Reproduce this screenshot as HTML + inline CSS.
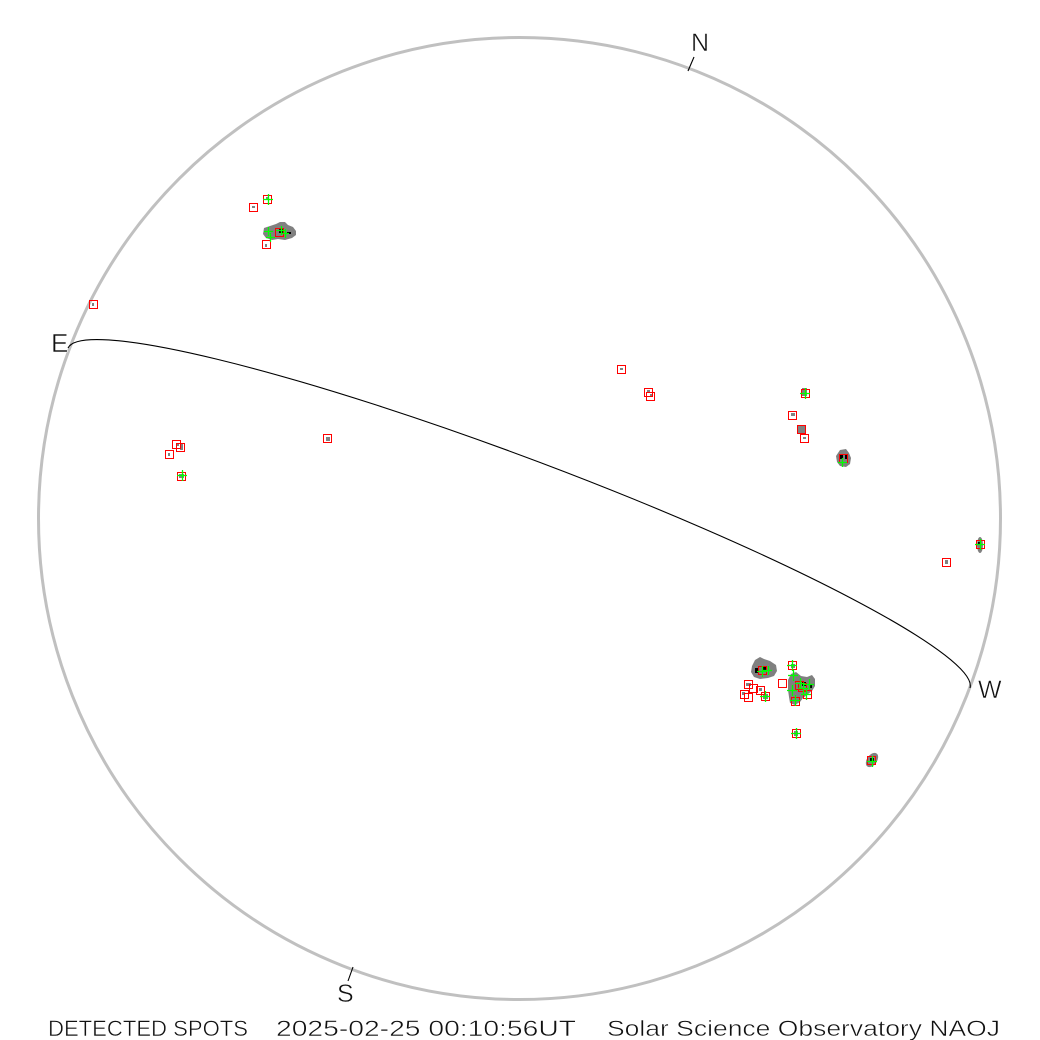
<!DOCTYPE html>
<html><head><meta charset="utf-8"><style>
html,body{margin:0;padding:0;background:#fff;}
svg{display:block;}
text{font-family:"Liberation Sans",sans-serif;fill:#111;stroke:#fff;stroke-width:0.5;}
</style></head><body>
<svg width="1040" height="1040" viewBox="0 0 1040 1040" xmlns="http://www.w3.org/2000/svg">
<rect width="1040" height="1040" fill="#fff"/>
<circle cx="519.5" cy="518.5" r="481" fill="none" stroke="#c0c0c0" stroke-width="3"/>
<!-- equator arc -->
<path d="M68 348 A482 60 20.65 0 1 970 688" fill="none" stroke="#000" stroke-width="1.1"/>
<!-- ticks -->
<line x1="694" y1="57" x2="688" y2="71" stroke="#000" stroke-width="1.1"/>
<line x1="353" y1="967" x2="348" y2="981" stroke="#000" stroke-width="1.1"/>
<!-- labels -->
<text x="51" y="352" font-size="26">E</text>
<text x="691" y="51" font-size="25">N</text>
<text x="978" y="698" font-size="25">W</text>
<text x="337" y="1002" font-size="25">S</text>
<text x="48" y="1036" font-size="22" textLength="200" lengthAdjust="spacingAndGlyphs">DETECTED SPOTS</text>
<text x="276" y="1036" font-size="22" textLength="300" lengthAdjust="spacingAndGlyphs">2025-02-25 00:10:56UT</text>
<text x="607" y="1036" font-size="22" textLength="393" lengthAdjust="spacingAndGlyphs">Solar Science Observatory NAOJ</text>

<!-- gray blobs -->
<g fill="#808080">
  <path d="M264 228 L270 226 L276 224 L280 222 L285 222 L288 225 L293 227 L296 231 L296 235 L292 238 L285 240 L278 239 L272 240 L266 238 L263 234 Z"/>
  <rect x="252" y="206" width="3" height="2"/>
  <rect x="266" y="197" width="3" height="3"/>
  <rect x="265" y="244" width="2" height="3"/>
  <rect x="92" y="303" width="2" height="3"/>
  <rect x="620" y="368" width="3" height="2"/>
  <rect x="647" y="390" width="3" height="2"/>
  <rect x="650" y="394" width="2" height="2"/>
  <rect x="176" y="443" width="3" height="3"/>
  <rect x="180" y="444" width="3" height="6"/>
  <rect x="168" y="453" width="2" height="3"/>
  <rect x="179" y="474" width="5" height="4"/>
  <rect x="326" y="437" width="4" height="4"/>
  <rect x="802" y="388" width="5" height="8"/>
  <rect x="791" y="413" width="4" height="3"/>
  <rect x="797" y="425" width="9" height="9"/>
  <rect x="803" y="437" width="3" height="2"/>
  <path d="M840 450 L846 449 L849 453 L851 458 L850 464 L846 467 L840 466 L837 462 L836 456 Z"/>
  <ellipse cx="980" cy="545" rx="3" ry="8"/>
  <rect x="945" y="560" width="3" height="4"/>
  <path d="M752 666 L755 660 L760 657 L764 659 L770 661 L776 665 L777 671 L774 676 L768 678 L760 679 L754 677 L751 672 Z"/>
  <path d="M788 680 L791 674 L796 672 L801 676 L807 677 L812 675 L815 679 L815 686 L812 691 L808 694 L803 698 L800 702 L795 705 L790 703 L789 697 L788 690 Z"/>
  <rect x="746" y="683" width="5" height="3"/>
  <rect x="742" y="692" width="3" height="3"/>
  <rect x="759" y="688" width="3" height="3"/>
  <rect x="763" y="694" width="5" height="5"/>
  <rect x="791" y="664" width="4" height="4"/>
  <rect x="794" y="731" width="4" height="5"/>
  <ellipse cx="872" cy="760" rx="5" ry="8" transform="rotate(35 872 760)"/>
</g>
<!-- black cores -->
<g fill="#000">
  <rect x="279" y="229" width="4" height="4"/>
  <rect x="287" y="232" width="4" height="2"/>
  <rect x="840" y="455" width="3" height="4"/>
  <rect x="845" y="455" width="3" height="4"/>
  <rect x="755" y="668" width="4" height="5"/>
  <rect x="762" y="667" width="4" height="4"/>
  <rect x="802" y="682" width="4" height="4"/>
  <rect x="809" y="684" width="3" height="4"/>
  <rect x="870" y="758" width="4" height="4"/>
  <rect x="978" y="542" width="3" height="3"/>
</g>
<!-- red boxes -->
<g fill="none" stroke="#ff0000" stroke-width="1">
  <rect x="263.5" y="195.5" width="8" height="8"/>
  <rect x="249.5" y="203.5" width="8" height="8"/>
  <rect x="275.5" y="228.5" width="8" height="8"/>
  <rect x="262.5" y="240.5" width="8" height="8"/>
  <rect x="89.5" y="300.5" width="8" height="8"/>
  <rect x="172.5" y="440.5" width="8" height="8"/>
  <rect x="176.5" y="443.5" width="8" height="8"/>
  <rect x="165.5" y="450.5" width="8" height="8"/>
  <rect x="177.5" y="472.5" width="8" height="8"/>
  <rect x="323.5" y="434.5" width="8" height="8"/>
  <rect x="617.5" y="365.5" width="8" height="8"/>
  <rect x="644.5" y="388.5" width="8" height="8"/>
  <rect x="646.5" y="392.5" width="8" height="8"/>
  <rect x="801.5" y="389.5" width="8" height="8"/>
  <rect x="788.5" y="411.5" width="8" height="8"/>
  <rect x="797.5" y="425.5" width="8" height="8"/>
  <rect x="800.5" y="434.5" width="8" height="8"/>
  <rect x="839.5" y="454.5" width="8" height="8"/>
  <rect x="976.5" y="540.5" width="8" height="8"/>
  <rect x="942.5" y="558.5" width="8" height="8"/>
  <rect x="758.5" y="666.5" width="8" height="8"/>
  <rect x="788.5" y="661.5" width="8" height="8"/>
  <rect x="778.5" y="679.5" width="8" height="8"/>
  <rect x="795.5" y="681.5" width="8" height="8"/>
  <rect x="798.5" y="683.5" width="8" height="8"/>
  <rect x="803.5" y="690.5" width="8" height="8"/>
  <rect x="791.5" y="697.5" width="8" height="8"/>
  <rect x="744.5" y="680.5" width="8" height="8"/>
  <rect x="749.5" y="684.5" width="8" height="8"/>
  <rect x="756.5" y="686.5" width="8" height="8"/>
  <rect x="740.5" y="690.5" width="8" height="8"/>
  <rect x="744.5" y="693.5" width="8" height="8"/>
  <rect x="761.5" y="692.5" width="8" height="8"/>
  <rect x="792.5" y="729.5" width="8" height="8"/>
  <rect x="867.5" y="756.5" width="8" height="8"/>
</g>
<!-- green crosses -->
<g stroke="#00ff00" stroke-width="1.3" fill="none">
  <path d="M263 199.5h10M268.5 194v11"/>
  <path d="M264 231.5h9M268.5 227v9"/>
  <path d="M266 237.5h9M270.5 233v9"/>
  <path d="M276 230.5h9M281.5 226v9"/>
  <path d="M281 233.5h8M285.5 229v9"/>
  <path d="M177 475.5h10M182.5 470v11"/>
  <path d="M800 393.5h10M805.5 388v11"/>
  <path d="M838 462.5h9M842.5 458v9"/>
  <path d="M975 544.5h10M980.5 539v11"/>
  <path d="M757 671.5h10M762.5 666v11"/>
  <path d="M763 670.5h9M768.5 666v9"/>
  <path d="M787 665.5h10M792.5 660v11"/>
  <path d="M788 675.5h10M793.5 670v11"/>
  <path d="M795 683.5h10M800.5 678v11"/>
  <path d="M798 688.5h10M803.5 683v11"/>
  <path d="M804 684.5h10M809.5 679v11"/>
  <path d="M801 694.5h10M806.5 689v11"/>
  <path d="M787 690.5h10M792.5 685v11"/>
  <path d="M790 700.5h10M795.5 695v11"/>
  <path d="M760 696.5h10M765.5 691v11"/>
  <path d="M791 733.5h10M796.5 728v11"/>
  <path d="M867 761.5h10M872.5 756v11"/>
</g>
</svg>
</body></html>
